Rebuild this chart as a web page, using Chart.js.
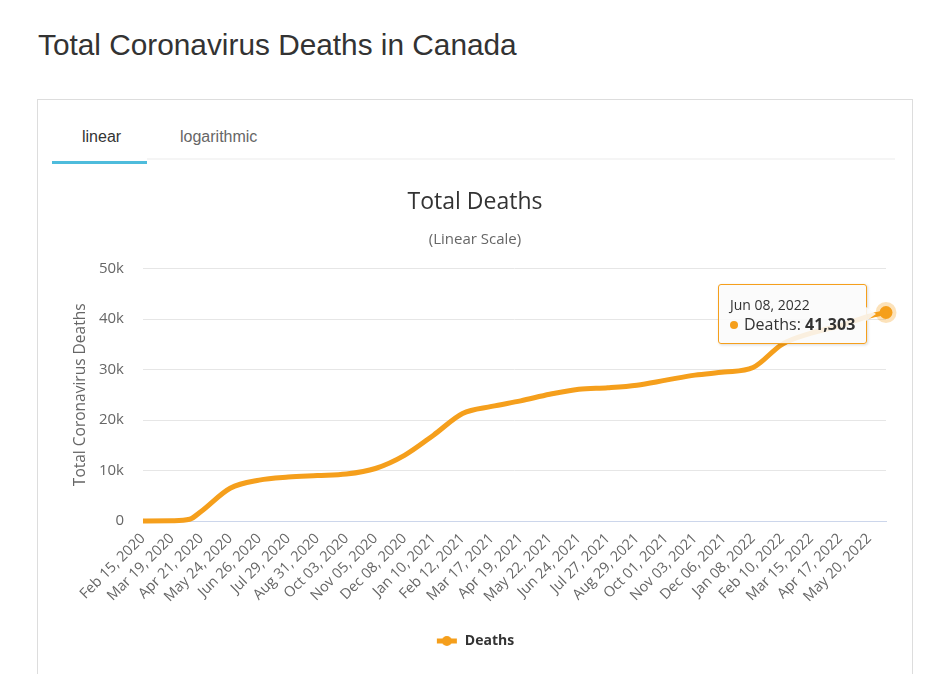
<!DOCTYPE html>
<html>
<head>
<meta charset="utf-8">
<title>Total Coronavirus Deaths in Canada</title>
<script src="https://cdn.jsdelivr.net/npm/chart.js@4.4.1/dist/chart.umd.min.js"></script>
<style>
  html, body { margin: 0; padding: 0; background: #fff; overflow: hidden; }
  body { width: 935px; height: 674px; position: relative; font-family: "Liberation Sans", Arial, sans-serif; }
  h1 { position: absolute; left: 38px; top: 30px; margin: 0; font-weight: normal; font-size: 29.8px; line-height: 30px; color: #333; white-space: nowrap; }
  .card { position: absolute; left: 37px; top: 99px; width: 876px; height: 620px; border: 1px solid #ddd; box-sizing: border-box; }
  .tab { position: absolute; top: 129px; font-size: 16px; line-height: 16px; }
  .tab.on { left: 82px; color: #333; }
  .tab.off { left: 180px; color: #666; }
  .tabline { position: absolute; left: 147px; top: 158px; width: 748px; height: 2px; background: #f5f5f5; }
  .tabbar { position: absolute; left: 52px; top: 161px; width: 95px; height: 3px; background: #4ebcdc; }
  #wrap { position: absolute; left: 39px; top: 170px; width: 872px; height: 504px; }
  #tip { position: absolute; display: none; background: rgba(250, 250, 250, 0.88); border: 1px solid #f59f1c;
         border-radius: 3px; padding: 11px 11px 9px 11px; font-family: "Open Sans", sans-serif; color: #333;
         box-shadow: 1px 1px 3px rgba(0, 0, 0, 0.15); white-space: nowrap; }
  #tip .t { font-size: 14px; line-height: 18px; }
  #tip .b { font-size: 16px; line-height: 20px; }
  #tip .b i { display: inline-block; width: 8px; height: 8px; border-radius: 50%; background: #f59f1c; margin: 0 6px 1px 0; vertical-align: middle; }
  #tip:after { content: ""; position: absolute; right: -10px; top: 50%; margin-top: -7px; border-style: solid;
               border-width: 7px 0 7px 10px; border-color: transparent transparent transparent rgba(250, 250, 250, 0.88); }
</style>
</head>
<body>
<h1>Total Coronavirus Deaths in Canada</h1>
<div class="card"></div>
<div class="tab on">linear</div>
<div class="tab off">logarithmic</div>
<div class="tabline"></div>
<div class="tabbar"></div>
<div id="wrap"><canvas id="deathsChart"></canvas></div>
<div id="tip"></div>
<script>
// values
const sampleDates = [
  'Feb 15, 2020', 'Mar 19, 2020', 'Apr 08, 2020', 'Apr 21, 2020', 'May 24, 2020', 'Jun 26, 2020',
  'Jul 29, 2020', 'Aug 31, 2020', 'Oct 03, 2020', 'Nov 05, 2020', 'Dec 08, 2020', 'Jan 10, 2021',
  'Feb 12, 2021', 'Mar 17, 2021', 'Apr 19, 2021', 'May 22, 2021', 'Jun 24, 2021', 'Jul 27, 2021',
  'Aug 29, 2021', 'Oct 01, 2021', 'Nov 03, 2021', 'Dec 06, 2021', 'Jan 08, 2022', 'Feb 10, 2022',
  'Mar 15, 2022', 'Apr 17, 2022', 'May 20, 2022', 'Jun 08, 2022'
];
const deaths = [
  0, 60, 350, 1900, 6500, 8100,
  8700, 9000, 9300, 10400, 13000, 17000,
  21300, 22700, 23800, 25100, 26100, 26400,
  26900, 27900, 28900, 29500, 30400, 35000,
  37200, 38700, 40600, 41303
];
const tickLabels = [
  'Feb 15, 2020', 'Mar 19, 2020', 'Apr 21, 2020', 'May 24, 2020', 'Jun 26, 2020', 'Jul 29, 2020',
  'Aug 31, 2020', 'Oct 03, 2020', 'Nov 05, 2020', 'Dec 08, 2020', 'Jan 10, 2021', 'Feb 12, 2021',
  'Mar 17, 2021', 'Apr 19, 2021', 'May 22, 2021', 'Jun 24, 2021', 'Jul 27, 2021', 'Aug 29, 2021',
  'Oct 01, 2021', 'Nov 03, 2021', 'Dec 06, 2021', 'Jan 08, 2022', 'Feb 10, 2022', 'Mar 15, 2022',
  'Apr 17, 2022', 'May 20, 2022'
];
const yTicks = [0, 10000, 20000, 30000, 40000, 50000];

const lineColor = '#f59f1c';
const start = Date.parse(tickLabels[0]);
const dayOf = s => Math.round((Date.parse(s) - start) / 864e5);
const tickDays = tickLabels.map(dayOf);

const points = sampleDates.map((d, i) => ({ x: dayOf(d), y: deaths[i] }));

// legend symbol: thick line with a dot
const sym = document.createElement('canvas');
sym.width = 22; sym.height = 12;
const sc = sym.getContext('2d');
sc.strokeStyle = lineColor; sc.lineWidth = 5;
sc.beginPath(); sc.moveTo(1, 6); sc.lineTo(21, 6); sc.stroke();
sc.fillStyle = lineColor;
sc.beginPath(); sc.arc(11, 6, 5, 0, Math.PI * 2); sc.fill();

Chart.defaults.font.family = '"Open Sans", sans-serif';

function showTip({ chart, tooltip }) {
  const tip = document.getElementById('tip');
  if (tooltip.opacity === 0 || !tooltip.dataPoints || !tooltip.dataPoints.length) {
    tip.style.display = 'none';
    return;
  }
  const dp = tooltip.dataPoints[0];
  tip.innerHTML = `<div class="t">${sampleDates[dp.dataIndex]}</div>
    <div class="b"><i></i>Deaths: <b>${dp.raw.y.toLocaleString('en-US')}</b></div>`;
  tip.style.display = 'block';
  const wrap = document.getElementById('wrap');
  tip.style.left = (wrap.offsetLeft + tooltip.caretX - 19 - tip.offsetWidth) + 'px';
  tip.style.top = (wrap.offsetTop + tooltip.caretY + 1 - tip.offsetHeight / 2) + 'px';
}

const ctx = document.getElementById('deathsChart').getContext('2d');
const chart = new Chart(ctx, {
  type: 'line',
  data: {
    datasets: [{
      label: 'Deaths',
      data: points,
      borderColor: lineColor,
      backgroundColor: lineColor,
      borderWidth: 5,
      cubicInterpolationMode: 'monotone',
      pointRadius: 0,
      pointHoverRadius: 6.5,
      pointHoverBackgroundColor: lineColor,
      pointHoverBorderColor: 'rgba(245, 159, 28, 0.3)',
      pointHoverBorderWidth: 8,
      clip: false
    }]
  },
  options: {
    responsive: true,
    maintainAspectRatio: false,
    animation: false,
    events: [],
    layout: { padding: { left: 25, right: 25, top: 0, bottom: 16 } },
    scales: {
      x: {
        type: 'linear',
        min: 0,
        max: dayOf(sampleDates[sampleDates.length - 1]),
        afterBuildTicks: s => { s.ticks = tickDays.map(v => ({ value: v })); },
        afterFit: s => { s.height = 103; },
        grid: { display: false, drawTicks: false },
        border: { display: true, color: '#ccd6eb', width: 1 },
        ticks: {
          autoSkip: false,
          minRotation: 45,
          maxRotation: 45,
          padding: 9,
          color: '#666',
          font: { size: 14.5 },
          callback: v => tickLabels[tickDays.indexOf(v)]
        }
      },
      y: {
        min: 0,
        max: 50000,
        afterBuildTicks: s => { s.ticks = yTicks.map(v => ({ value: v })); },
        afterFit: s => { s.width = 79; },
        grid: { color: '#e6e6e6', drawTicks: false },
        border: { display: false },
        ticks: {
          padding: 19,
          color: '#666',
          font: { size: 15 },
          callback: v => v === 0 ? '0' : (v / 1000) + 'k'
        },
        title: {
          display: true,
          text: 'Total Coronavirus Deaths',
          color: '#666',
          font: { size: 15.5 },
          padding: { top: 7, bottom: 0 }
        }
      }
    },
    plugins: {
      title: {
        display: true,
        text: 'Total Deaths',
        color: '#333',
        font: { size: 23, weight: 'normal' },
        padding: { top: 19, bottom: 14 }
      },
      subtitle: {
        display: true,
        text: '(Linear Scale)',
        color: '#666',
        font: { size: 15 },
        padding: { top: 0, bottom: 20 }
      },
      legend: {
        position: 'bottom',
        labels: {
          usePointStyle: true,
          pointStyleWidth: 22,
          color: '#333',
          font: { size: 14, weight: 'bold' },
          generateLabels: c => Chart.defaults.plugins.legend.labels.generateLabels(c)
            .map(l => Object.assign(l, { pointStyle: sym }))
        }
      },
      tooltip: {
        enabled: false,
        external: showTip
      }
    }
  }
});

// show the hovered last point with its tooltip, as in the reference
const last = points.length - 1;
const active = [{ datasetIndex: 0, index: last }];
const pt = chart.getDatasetMeta(0).data[last];
chart.setActiveElements(active);
chart.tooltip.setActiveElements(active, { x: pt.x, y: pt.y });
chart.update();
</script>
</body>
</html>
